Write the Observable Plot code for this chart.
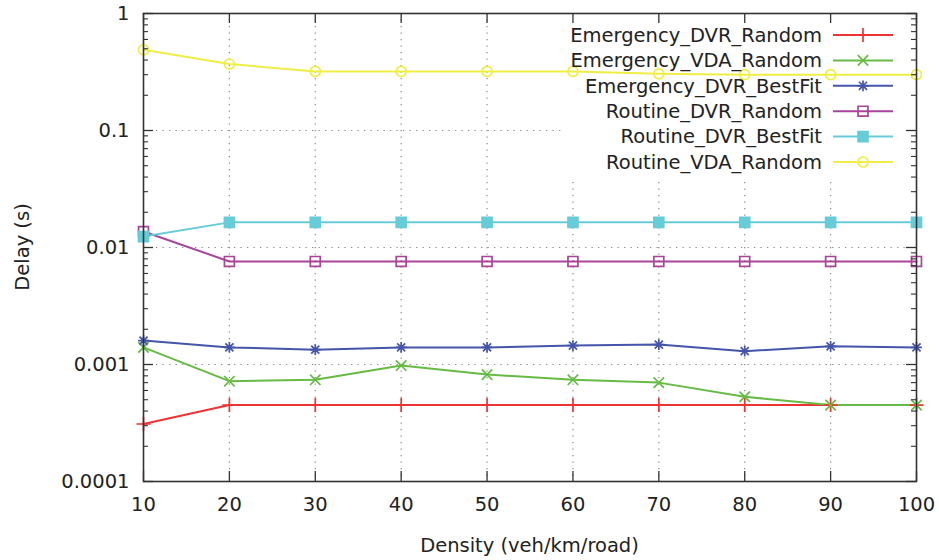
<!DOCTYPE html>
<html>
<head>
<meta charset="utf-8">
<script src="https://cdn.jsdelivr.net/npm/d3@7"></script>
<script src="https://cdn.jsdelivr.net/npm/@observablehq/plot@0.6"></script>
<style>
  html, body { margin: 0; padding: 0; background: #fff; }
  #chart svg { display: block; }
</style>
</head>
<body>
<div id="chart"></div>
<script>
// ---- Data ----
const density = [10, 20, 30, 40, 50, 60, 70, 80, 90, 100];
const seriesNames = ["Emergency_DVR_Random", "Emergency_VDA_Random", "Emergency_DVR_BestFit",
                     "Routine_DVR_Random", "Routine_DVR_BestFit", "Routine_VDA_Random"];
const emergencyDvrRandom  = [0.00031, 0.00045, 0.00045, 0.00045, 0.00045, 0.00045, 0.00045, 0.00045, 0.00045, 0.00045];
const emergencyVdaRandom  = [0.00140, 0.00072, 0.00074, 0.00098, 0.00082, 0.00074, 0.00070, 0.00053, 0.00045, 0.00045];
const emergencyDvrBestFit = [0.00160, 0.00140, 0.00134, 0.00140, 0.00140, 0.00145, 0.00148, 0.00130, 0.00143, 0.00140];
const routineDvrRandom    = [0.0137, 0.0076, 0.0076, 0.0076, 0.0076, 0.0076, 0.0076, 0.0076, 0.0076, 0.0076];
const routineDvrBestFit   = [0.0124, 0.0164, 0.0164, 0.0164, 0.0164, 0.0164, 0.0164, 0.0164, 0.0164, 0.0164];
const routineVdaRandom    = [0.49, 0.37, 0.32, 0.32, 0.32, 0.32, 0.305, 0.30, 0.30, 0.30];
const yTicks = [0.0001, 0.001, 0.01, 0.1, 1];
const xTicks = [10, 20, 30, 40, 50, 60, 70, 80, 90, 100];
const xLabel = "Density (veh/km/road)";
const yLabel = "Delay (s)";

// ---- Styling ----
const colors  = ["#ee3333", "#66bb44", "#4455aa", "#aa4499", "#66ccd8", "#eeee44"];
const fills   = ["none", "none", "none", "none", "#66ccd8", "none"];
const radii   = [4.6, 4.8, 5.4, 5.6, 5.6, 5.0];
// gnuplot-like 8-armed asterisk (plus + times)
const symbolStar8 = {
  draw(ctx, size) {
    const r = Math.sqrt(size / Math.PI);
    const d = r * 0.75;
    ctx.moveTo(-r, 0); ctx.lineTo(r, 0);
    ctx.moveTo(0, -r); ctx.lineTo(0, r);
    ctx.moveTo(-d, -d); ctx.lineTo(d, d);
    ctx.moveTo(-d, d); ctx.lineTo(d, -d);
  }
};
const symbolObjs = [d3.symbolPlus, d3.symbolTimes, symbolStar8, d3.symbolSquare, d3.symbolSquare, d3.symbolCircle];
const allSeries = [emergencyDvrRandom, emergencyVdaRandom, emergencyDvrBestFit,
                   routineDvrRandom, routineDvrBestFit, routineVdaRandom];

const rows = [];
allSeries.forEach((vals, i) => vals.forEach((v, j) => rows.push({series: seriesNames[i], idx: i, x: density[j], y: v})));

const minorY = [];
for (let e = -4; e < 0; e++) for (let m = 2; m <= 9; m++) minorY.push(m * Math.pow(10, e));

const W = 939, H = 560, ML = 143, MR = 23, MT = 13, MB = 79;
const FW = W - ML - MR, FH = H - MT - MB;
const font = "DejaVu Sans, sans-serif";
const FS = 19.5;

const gridStyle = {stroke: "#8a8a8a", strokeWidth: 1.2, strokeDasharray: "1.3,5.2"};

const marks = [
  Plot.ruleX(xTicks.slice(1, -1), {...gridStyle}),
  Plot.ruleY(yTicks.slice(1, -1), {...gridStyle}),
];
seriesNames.forEach((name, i) => {
  const data = rows.filter(r => r.idx === i);
  marks.push(Plot.line(data, {x: "x", y: "y", stroke: colors[i], strokeWidth: 2}));
});
seriesNames.forEach((name, i) => {
  const data = rows.filter(r => r.idx === i);
  marks.push(Plot.dot(data, {x: "x", y: "y", symbol: symbolObjs[i], r: radii[i],
    stroke: colors[i], fill: fills[i], strokeWidth: 1.7}));
});
// inward ticks (gnuplot style, mirrored)
marks.push(
  Plot.ruleX(xTicks, {stroke: "#333", strokeWidth: 1.3, insetTop: FH - 10}),
  Plot.ruleX(xTicks, {stroke: "#333", strokeWidth: 1.3, insetBottom: FH - 10}),
  Plot.ruleY(yTicks, {stroke: "#333", strokeWidth: 1.3, insetRight: FW - 10}),
  Plot.ruleY(yTicks, {stroke: "#333", strokeWidth: 1.3, insetLeft: FW - 10}),
  Plot.ruleY(minorY, {stroke: "#333", strokeWidth: 1.1, insetRight: FW - 5}),
  Plot.ruleY(minorY, {stroke: "#333", strokeWidth: 1.1, insetLeft: FW - 5}),
  Plot.frame({stroke: "#333", strokeWidth: 1.6}),
  Plot.axisX(xTicks, {tickSize: 0, tickPadding: 16, fontSize: FS, fill: "#222", label: null}),
  Plot.axisY(yTicks, {tickSize: 0, tickPadding: 14, fontSize: FS, fill: "#222",
    tickFormat: d => String(d), label: null})
);

const chart = Plot.plot({
  width: W, height: H,
  marginLeft: ML, marginRight: MR, marginTop: MT, marginBottom: MB,
  style: {fontFamily: font, fontSize: FS + "px", background: "#fff", color: "#222", overflow: "visible"},
  x: {domain: [10, 100], axis: null},
  y: {type: "log", domain: [0.0001, 1], axis: null},
  marks
});
document.getElementById("chart").appendChild(chart);

const svg = d3.select(chart);
// axis titles
svg.append("text").attr("x", ML + FW / 2).attr("y", 545).attr("dy", "0.35em")
  .attr("text-anchor", "middle").attr("font-family", font).attr("font-size", FS)
  .attr("fill", "#222").text(xLabel);
svg.append("text").attr("transform", `translate(22,${MT + FH / 2}) rotate(-90)`)
  .attr("dy", "0.35em").attr("text-anchor", "middle").attr("font-family", font)
  .attr("font-size", FS).attr("fill", "#222").text(yLabel);

// Legend with white background covering the grid (drawn below the data)
const groups = chart.querySelectorAll(":scope > g");
const bg = document.createElementNS("http://www.w3.org/2000/svg", "rect");
bg.setAttribute("x", 562); bg.setAttribute("y", 17);
bg.setAttribute("width", 350); bg.setAttribute("height", 160);
bg.setAttribute("fill", "#fff");
chart.insertBefore(bg, groups[2]);

const leg = svg.append("g").attr("font-family", font).attr("font-size", FS);
seriesNames.forEach((name, i) => {
  const y = 35 + i * 25.4;
  leg.append("text").attr("x", 822).attr("y", y).attr("dy", "0.35em")
    .attr("text-anchor", "end").attr("fill", "#222").text(name);
  leg.append("line").attr("x1", 833).attr("x2", 893).attr("y1", y).attr("y2", y)
    .attr("stroke", colors[i]).attr("stroke-width", 2);
  leg.append("path").attr("transform", `translate(863,${y})`)
    .attr("d", d3.symbol(symbolObjs[i], radii[i] * radii[i] * Math.PI)())
    .attr("stroke", colors[i]).attr("fill", fills[i]).attr("stroke-width", 1.7);
});
</script>
</body>
</html>
